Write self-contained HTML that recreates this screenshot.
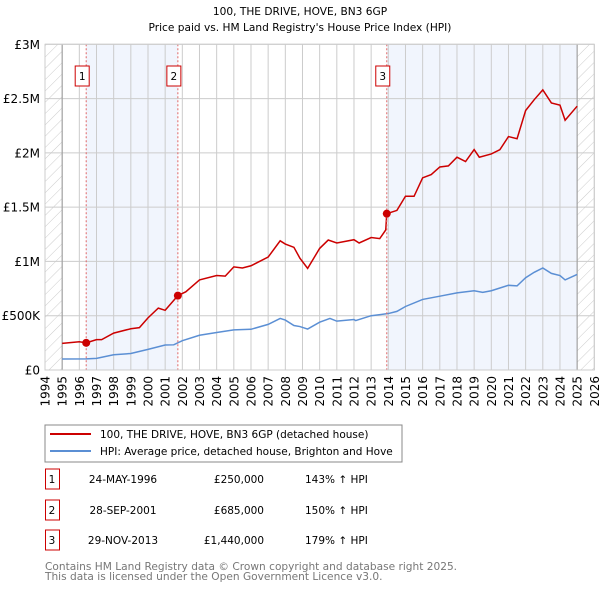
<!DOCTYPE html>
<html><head><meta charset="utf-8"><style>
body{margin:0;background:#fff;font-family:"DejaVu Sans","Liberation Sans",sans-serif;}
svg text{font-family:"DejaVu Sans","Liberation Sans",sans-serif;}
</style></head><body>
<svg id="chart" width="600" height="590" xmlns="http://www.w3.org/2000/svg">
<defs><pattern id="hatch" width="8" height="8" patternUnits="userSpaceOnUse" patternTransform="rotate(45)"><line x1="0" y1="0" x2="0" y2="8" stroke="#ccc" stroke-width="1"/></pattern></defs>
<text x="300" y="15" text-anchor="middle" font-size="10.6">100, THE DRIVE, HOVE, BN3 6GP</text>
<text x="300" y="31" text-anchor="middle" font-size="10.6">Price paid vs. HM Land Registry's House Price Index (HPI)</text>
<g id="plot"></g>
<rect x="45" y="425" width="357" height="37" fill="#fff" stroke="#888"/>
<line x1="50" y1="434" x2="91" y2="434" stroke="#cc0000" stroke-width="2"/>
<text x="100" y="438" font-size="10.5">100, THE DRIVE, HOVE, BN3 6GP (detached house)</text>
<line x1="50" y1="451" x2="91" y2="451" stroke="#5b8fd4" stroke-width="2"/>
<text x="100" y="455" font-size="10.5">HPI: Average price, detached house, Brighton and Hove</text>
<g id="table" font-size="10.5"></g>
<text x="45" y="570" font-size="10.6" fill="#777">Contains HM Land Registry data © Crown copyright and database right 2025.</text>
<text x="45" y="580" font-size="10.6" fill="#777">This data is licensed under the Open Government Licence v3.0.</text>
</svg>
<script>
const hpiYears=[1995,1996.4,1997,1998,1999,2000,2001,2001.5,2002,2003,2004,2005,2006,2007,2007.7,2008,2008.5,2008.85,2009.3,2010,2010.6,2011,2012,2012.1,2013,2014,2014.5,2015,2016,2017,2018,2019,2019.5,2020,2021,2021.5,2022,2022.5,2023,2023.5,2024,2024.3,2025];
const hpiValues=[0.101,0.103,0.107,0.14,0.152,0.19,0.23,0.232,0.27,0.32,0.345,0.37,0.375,0.42,0.475,0.46,0.41,0.40,0.377,0.44,0.475,0.45,0.465,0.455,0.5,0.52,0.54,0.585,0.65,0.68,0.71,0.73,0.715,0.73,0.78,0.775,0.85,0.9,0.94,0.89,0.87,0.83,0.88];
const redYears=[1995,1996,1996.4,1997,1997.3,1998,1999,1999.5,2000,2000.6,2001,2001.74,2002.2,2003,2004,2004.5,2005,2005.5,2006,2007,2007.7,2008,2008.5,2008.85,2009.3,2010,2010.5,2011,2012,2012.3,2013,2013.5,2013.85,2013.91,2014.5,2015,2015.5,2016,2016.5,2017,2017.5,2018,2018.5,2019,2019.3,2020,2020.5,2021,2021.5,2022,2022.5,2023,2023.5,2024,2024.3,2025];
const redValues=[0.245,0.26,0.25,0.28,0.28,0.34,0.38,0.39,0.48,0.57,0.55,0.685,0.72,0.83,0.87,0.865,0.95,0.94,0.96,1.04,1.19,1.16,1.13,1.03,0.936,1.12,1.197,1.17,1.2,1.17,1.22,1.21,1.29,1.44,1.47,1.6,1.6,1.77,1.8,1.87,1.88,1.96,1.92,2.03,1.96,1.99,2.03,2.15,2.13,2.39,2.49,2.58,2.46,2.44,2.3,2.43];
const saleYears=[1996.4,2001.74,2013.91];
const salePrices=[0.25,0.685,1.44];
const saleLabels=["1","2","3"];
const saleDates=["24-MAY-1996","28-SEP-2001","29-NOV-2013"];
const salePriceText=["£250,000","£685,000","£1,440,000"];
const saleHpiText=["143% ↑ HPI","150% ↑ HPI","179% ↑ HPI"];
const yTicks=[0,0.5,1,1.5,2,2.5,3];
const yTickLabels=["£0","£500K","£1M","£1.5M","£2M","£2.5M","£3M"];
const NS="http://www.w3.org/2000/svg";
const X0=45,X1=594.3,Y0=370,Y1=44.3;
const xs=y=>X0+(y-1994)/32*(X1-X0);
const ys=v=>Y0-v/3*(Y0-Y1);
const plot=document.getElementById('plot');
function mk(tag,attrs,parent){const e=document.createElementNS(NS,tag);for(const k in attrs)e.setAttribute(k,attrs[k]);(parent||plot).appendChild(e);return e;}
mk('rect',{x:X0,y:Y1,width:X1-X0,height:Y0-Y1,fill:'#fff'});
let r;
r=mk('rect',{x:X0,y:Y1,width:xs(1995)-X0,height:Y0-Y1,fill:'url(#hatch)'});


r=mk('rect',{x:xs(2025),y:Y1,width:X1-xs(2025),height:Y0-Y1,fill:'url(#hatch)'});


r=mk('rect',{x:xs(saleYears[0]),y:Y1,width:xs(saleYears[1])-xs(saleYears[0]),height:Y0-Y1,fill:'#eef3fc',opacity:0.8});


r=mk('rect',{x:xs(saleYears[2]),y:Y1,width:xs(2025)-xs(saleYears[2]),height:Y0-Y1,fill:'#eef3fc',opacity:0.8});


for(let yr=1994;yr<=2026;yr++){
  const l=mk('line',{x1:xs(yr),x2:xs(yr),y1:Y1,y2:Y0,stroke:'#ccc','stroke-width':1});
  
  
  const t=mk('text',{x:0,y:0,'font-size':12,'text-anchor':'end',transform:`translate(${xs(yr)+4.5},${Y0+6}) rotate(-90)`});
  t.textContent=yr;
  
  
}
yTicks.forEach((v,i)=>{
  const l=mk('line',{x1:X0,x2:X1,y1:ys(v),y2:ys(v),stroke:'#ccc','stroke-width':1});
  
  
  const t=mk('text',{x:40,y:ys(v)+4.5,'font-size':12,'text-anchor':'end'});
  t.textContent=yTickLabels[i];
  
  
});
let a=mk('line',{x1:xs(1995),x2:xs(1995),y1:Y1,y2:Y0,stroke:'#999'});


a=mk('line',{x1:xs(2025),x2:xs(2025),y1:Y1,y2:Y0,stroke:'#999'});


const hp=mk('polyline',{points:hpiYears.map((y,i)=>xs(y)+','+ys(hpiValues[i])).join(' '),fill:'none',stroke:'#5b8fd4','stroke-width':1.5});


const rp=mk('polyline',{points:redYears.map((y,i)=>xs(y)+','+ys(redValues[i])).join(' '),fill:'none',stroke:'#cc0000','stroke-width':1.5});


saleYears.forEach((y,i)=>{
  const l=mk('line',{x1:xs(y),x2:xs(y),y1:Y1,y2:Y0,stroke:'#e06666','stroke-dasharray':'2,2','stroke-width':1});
  
  
  const c=mk('circle',{cx:xs(y),cy:ys(salePrices[i]),r:4,fill:'#cc0000'});
  
  
  const b=mk('rect',{x:xs(y)-11,y:66,width:14,height:20,fill:'#fff',stroke:'#cc0000'});
  
  
  const t=mk('text',{x:xs(y)-4,y:80,'font-size':10.5,'text-anchor':'middle'});
  t.textContent=saleLabels[i];
  
  
});
mk('rect',{x:X0,y:Y1,width:X1-X0,height:Y0-Y1,fill:'none',stroke:'#ccc'});
const tb=document.getElementById('table');
const rowY=[482,513,543];
saleLabels.forEach((lab,i)=>{
  const yy=rowY[i];
  const b=mk('rect',{x:45.5,y:yy-13,width:14,height:20,fill:'#fff',stroke:'#cc0000'},tb);
  
  
  const cells=[[52,'middle',lab,'table-index'],[123,'middle',saleDates[i],'table-date'],[264,'end',salePriceText[i],'table-price'],[305,'start',saleHpiText[i],'table-hpi-change']];
  cells.forEach(c=>{
    const t=mk('text',{x:c[0],y:yy+1,'text-anchor':c[1],'font-size':10.5},tb);
    t.textContent=c[2];
    
    
  });
});
</script>
</body></html>
